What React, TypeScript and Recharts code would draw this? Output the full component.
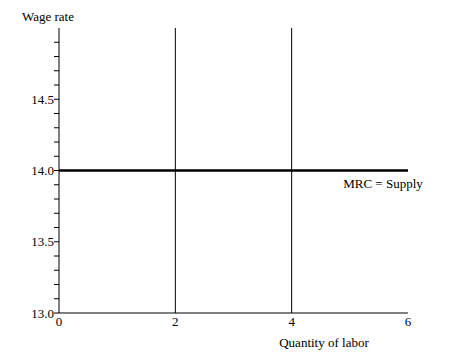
import { LineChart, Line, XAxis, YAxis, ReferenceLine } from 'recharts'

// Quantity of labor (x) vs wage rate (y)
const supplyQty = [0, 6]
const supplyWage = [14, 14]
const markedQty = [2, 4]
const xTicks = [0, 2, 4, 6]
const yTicks = [13.0, 13.1, 13.2, 13.3, 13.4, 13.5, 13.6, 13.7, 13.8, 13.9, 14.0, 14.1, 14.2, 14.3, 14.4, 14.5, 14.6, 14.7, 14.8, 14.9]
const yLabelled = ['13.0', '13.5', '14.0', '14.5']

const FONT = 'Liberation Serif'
const INK = '#000'

const supply = supplyQty.map((q, i) => ({ q, w: supplyWage[i] }))

export default function App() {
  const txt = { fontSize: 13, fill: INK, style: { fontFamily: FONT } }
  return (
    <div style={{ position: 'absolute', left: 0, top: 0, background: '#fff', fontFamily: FONT }}>
      <LineChart width={450} height={364} data={supply} margin={{ top: 28, right: 42, bottom: 0, left: 0 }}>
        <XAxis
          dataKey="q"
          type="number"
          domain={[0, 6]}
          ticks={xTicks}
          tickLine={false}
          tickSize={0}
          tickMargin={4}
          height={51}
          axisLine={{ stroke: INK }}
          tick={txt}
          label={(p: any) => (
            <text x={p.viewBox.x + 265} y={347} textAnchor="middle" {...txt}>
              Quantity of labor
            </text>
          )}
        />
        <YAxis
          type="number"
          domain={[13, 15]}
          ticks={yTicks}
          interval={0}
          width={59}
          tickSize={5}
          tickMargin={0}
          axisLine={{ stroke: INK }}
          tickLine={{ stroke: INK }}
          tick={txt}
          tickFormatter={(v: number) => (yLabelled.includes(v.toFixed(1)) ? v.toFixed(1) : '')}
          label={() => (
            <text x={48} y={21} textAnchor="middle" {...txt}>
              Wage rate
            </text>
          )}
        />
        {markedQty.map(q => (
          <ReferenceLine key={q} x={q} stroke={INK} strokeWidth={1} />
        ))}
        <Line
          dataKey="w"
          stroke={INK}
          strokeWidth={2.5}
          dot={false}
          isAnimationActive={false}
          label={(p: any) =>
            p.index === supply.length - 1 ? (
              <text key="lbl" x={p.x - 25} y={p.y + 17} textAnchor="middle" {...txt}>
                MRC = Supply
              </text>
            ) : (
              <g key={`e${p.index}`} />
            )
          }
        />
      </LineChart>
    </div>
  )
}
